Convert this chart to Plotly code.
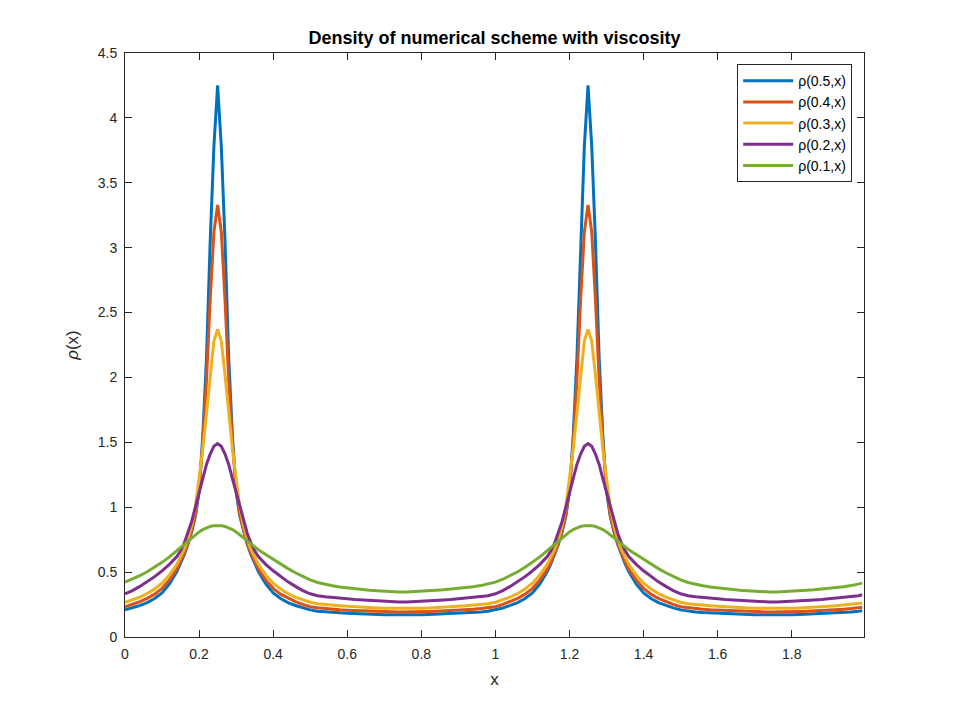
import plotly.graph_objects as go

# sample positions (two periods, peaks at 0.25 and 1.25)
x = [0, 0.02, 0.04, 0.06, 0.08, 0.1, 0.12, 0.14, 0.15, 0.16, 0.17, 0.18, 0.19, 0.2,
     0.21, 0.22, 0.23, 0.24, 0.25, 0.26, 0.27, 0.28, 0.29, 0.3, 0.31, 0.32, 0.33, 0.34,
     0.35, 0.36, 0.38, 0.4, 0.42, 0.44, 0.46, 0.48, 0.5, 0.52, 0.54, 0.56, 0.58, 0.6,
     0.62, 0.64, 0.66, 0.68, 0.7, 0.72, 0.74, 0.76, 0.78, 0.8, 0.82, 0.84, 0.86, 0.88,
     0.9, 0.92, 0.94, 0.96, 0.98,
     1.0, 1.02, 1.04, 1.06, 1.08, 1.1, 1.12, 1.14, 1.15, 1.16, 1.17, 1.18, 1.19, 1.2,
     1.21, 1.22, 1.23, 1.24, 1.25, 1.26, 1.27, 1.28, 1.29, 1.3, 1.31, 1.32, 1.33, 1.34,
     1.35, 1.36, 1.38, 1.4, 1.42, 1.44, 1.46, 1.48, 1.5, 1.52, 1.54, 1.56, 1.58, 1.6,
     1.62, 1.64, 1.66, 1.68, 1.7, 1.72, 1.74, 1.76, 1.78, 1.8, 1.82, 1.84, 1.86, 1.88,
     1.9, 1.92, 1.94, 1.96, 1.98, 1.99]

rho_05 = [0.209, 0.224, 0.243, 0.265, 0.297, 0.34, 0.41, 0.505, 0.565, 0.635, 0.715, 0.81, 0.93, 1.12,
          1.55, 2.15, 3.05, 3.78, 4.25, 3.78, 3.05, 2.15, 1.55, 1.12, 0.93, 0.81, 0.715, 0.635,
          0.565, 0.505, 0.41, 0.34, 0.297, 0.265, 0.243, 0.224, 0.209, 0.199, 0.193, 0.189, 0.186, 0.183,
          0.18, 0.178, 0.176, 0.174, 0.172, 0.171, 0.17, 0.17, 0.171, 0.172, 0.174, 0.176, 0.178, 0.18,
          0.183, 0.186, 0.189, 0.193, 0.199,
          0.209, 0.224, 0.243, 0.265, 0.297, 0.34, 0.41, 0.505, 0.565, 0.635, 0.715, 0.81, 0.93, 1.12,
          1.55, 2.15, 3.05, 3.78, 4.25, 3.78, 3.05, 2.15, 1.55, 1.12, 0.93, 0.81, 0.715, 0.635,
          0.565, 0.505, 0.41, 0.34, 0.297, 0.265, 0.243, 0.224, 0.209, 0.199, 0.193, 0.189, 0.186, 0.183,
          0.18, 0.178, 0.176, 0.174, 0.172, 0.171, 0.17, 0.17, 0.171, 0.172, 0.174, 0.176, 0.178, 0.18,
          0.183, 0.186, 0.189, 0.193, 0.199, 0.203]

rho_04 = [0.233, 0.251, 0.272, 0.298, 0.33, 0.375, 0.44, 0.525, 0.58, 0.645, 0.725, 0.82, 0.94, 1.14,
          1.5, 1.98, 2.6, 3.12, 3.33, 3.12, 2.6, 1.98, 1.5, 1.14, 0.94, 0.82, 0.725, 0.645,
          0.58, 0.525, 0.44, 0.375, 0.33, 0.298, 0.272, 0.251, 0.233, 0.225, 0.219, 0.214, 0.21, 0.207,
          0.204, 0.201, 0.199, 0.197, 0.195, 0.194, 0.193, 0.193, 0.194, 0.195, 0.197, 0.199, 0.201, 0.204,
          0.207, 0.21, 0.214, 0.219, 0.225,
          0.233, 0.251, 0.272, 0.298, 0.33, 0.375, 0.44, 0.525, 0.58, 0.645, 0.725, 0.82, 0.94, 1.14,
          1.5, 1.98, 2.6, 3.12, 3.33, 3.12, 2.6, 1.98, 1.5, 1.14, 0.94, 0.82, 0.725, 0.645,
          0.58, 0.525, 0.44, 0.375, 0.33, 0.298, 0.272, 0.251, 0.233, 0.225, 0.219, 0.214, 0.21, 0.207,
          0.204, 0.201, 0.199, 0.197, 0.195, 0.194, 0.193, 0.193, 0.194, 0.195, 0.197, 0.199, 0.201, 0.204,
          0.207, 0.21, 0.214, 0.219, 0.225, 0.229]

rho_03 = [0.268, 0.285, 0.307, 0.335, 0.37, 0.415, 0.478, 0.56, 0.615, 0.675, 0.755, 0.86, 1.0, 1.22,
          1.45, 1.72, 2.02, 2.28, 2.37, 2.28, 2.02, 1.72, 1.45, 1.22, 1.0, 0.86, 0.755, 0.675,
          0.615, 0.56, 0.478, 0.415, 0.37, 0.335, 0.307, 0.285, 0.268, 0.257, 0.25, 0.245, 0.24, 0.236,
          0.232, 0.229, 0.226, 0.224, 0.222, 0.221, 0.22, 0.22, 0.221, 0.222, 0.224, 0.226, 0.229, 0.232,
          0.236, 0.24, 0.245, 0.25, 0.257,
          0.268, 0.285, 0.307, 0.335, 0.37, 0.415, 0.478, 0.56, 0.615, 0.675, 0.755, 0.86, 1.0, 1.22,
          1.45, 1.72, 2.02, 2.28, 2.37, 2.28, 2.02, 1.72, 1.45, 1.22, 1.0, 0.86, 0.755, 0.675,
          0.615, 0.56, 0.478, 0.415, 0.37, 0.335, 0.307, 0.285, 0.268, 0.257, 0.25, 0.245, 0.24, 0.236,
          0.232, 0.229, 0.226, 0.224, 0.222, 0.221, 0.22, 0.22, 0.221, 0.222, 0.224, 0.226, 0.229, 0.232,
          0.236, 0.24, 0.245, 0.25, 0.257, 0.262]

rho_02 = [0.333, 0.358, 0.39, 0.425, 0.465, 0.51, 0.56, 0.62, 0.665, 0.725, 0.8, 0.89, 1.0, 1.11,
          1.22, 1.33, 1.41, 1.47, 1.49, 1.47, 1.41, 1.33, 1.22, 1.11, 1.0, 0.89, 0.8, 0.725,
          0.665, 0.62, 0.56, 0.51, 0.465, 0.425, 0.39, 0.358, 0.333, 0.318, 0.31, 0.303, 0.298, 0.294,
          0.289, 0.285, 0.281, 0.277, 0.274, 0.272, 0.27, 0.27, 0.272, 0.274, 0.277, 0.281, 0.285, 0.289,
          0.294, 0.298, 0.303, 0.31, 0.318,
          0.333, 0.358, 0.39, 0.425, 0.465, 0.51, 0.56, 0.62, 0.665, 0.725, 0.8, 0.89, 1.0, 1.11,
          1.22, 1.33, 1.41, 1.47, 1.49, 1.47, 1.41, 1.33, 1.22, 1.11, 1.0, 0.89, 0.8, 0.725,
          0.665, 0.62, 0.56, 0.51, 0.465, 0.425, 0.39, 0.358, 0.333, 0.318, 0.31, 0.303, 0.298, 0.294,
          0.289, 0.285, 0.281, 0.277, 0.274, 0.272, 0.27, 0.27, 0.272, 0.274, 0.277, 0.281, 0.285, 0.289,
          0.294, 0.298, 0.303, 0.31, 0.318, 0.325]

rho_01 = [0.423, 0.445, 0.473, 0.503, 0.537, 0.575, 0.617, 0.665, 0.69, 0.715, 0.74, 0.765, 0.79, 0.81,
          0.828, 0.842, 0.852, 0.858, 0.86, 0.858, 0.852, 0.842, 0.828, 0.81, 0.79, 0.765, 0.74, 0.715,
          0.69, 0.672, 0.635, 0.598, 0.562, 0.527, 0.495, 0.465, 0.44, 0.42, 0.405, 0.395, 0.386, 0.378,
          0.371, 0.365, 0.36, 0.356, 0.352, 0.349, 0.347, 0.347, 0.349, 0.352, 0.356, 0.36, 0.364, 0.369,
          0.375, 0.381, 0.388, 0.396, 0.407,
          0.423, 0.445, 0.473, 0.503, 0.537, 0.575, 0.617, 0.665, 0.69, 0.715, 0.74, 0.765, 0.79, 0.81,
          0.828, 0.842, 0.852, 0.858, 0.86, 0.858, 0.852, 0.842, 0.828, 0.81, 0.79, 0.765, 0.74, 0.715,
          0.69, 0.672, 0.635, 0.598, 0.562, 0.527, 0.495, 0.465, 0.44, 0.42, 0.405, 0.395, 0.386, 0.378,
          0.371, 0.365, 0.36, 0.356, 0.352, 0.349, 0.347, 0.347, 0.349, 0.352, 0.356, 0.36, 0.364, 0.369,
          0.375, 0.381, 0.388, 0.396, 0.407, 0.415]

labels = ["ρ(0.5,x)", "ρ(0.4,x)", "ρ(0.3,x)", "ρ(0.2,x)", "ρ(0.1,x)"]
series = [rho_05, rho_04, rho_03, rho_02, rho_01]
colors = ["#0072BD", "#D95319", "#EDB120", "#7E2F8E", "#77AC30"]

xticks = [0, 0.2, 0.4, 0.6, 0.8, 1, 1.2, 1.4, 1.6, 1.8]
yticks = [0, 0.5, 1, 1.5, 2, 2.5, 3, 3.5, 4, 4.5]

fig = go.Figure()
for name, ys, c in zip(labels, series, colors):
    fig.add_trace(go.Scatter(x=x, y=ys, mode="lines", name=name,
                             line=dict(color=c, width=3)))

axcol = "#262626"
# page body adds 8px offset, margins compensate for it
fig.update_layout(
    width=955,
    height=716,
    margin=dict(l=117, r=99, t=45, b=87),
    paper_bgcolor="white",
    plot_bgcolor="white",
    font=dict(family="Liberation Sans, Arial, sans-serif", size=14, color=axcol),
    title=dict(text="<b>Density of numerical scheme with viscosity</b>",
               x=0.5, xref="paper", y=1 - 30 / 716, yref="container",
               xanchor="center", yanchor="middle",
               font=dict(size=18, color="black")),
    showlegend=True,
    legend=dict(x=0.984, y=0.981, xanchor="right", yanchor="top",
                bgcolor="white", bordercolor=axcol, borderwidth=1,
                itemwidth=50,
                font=dict(size=14, color="black"), tracegroupgap=0),
    xaxis=dict(
        range=[0, 1.995],
        tickvals=xticks,
        ticktext=[f"{v:g}" for v in xticks],
        ticks="inside", ticklen=7, tickcolor=axcol, tickwidth=1,
        ticklabelstandoff=4,
        showline=True, linecolor=axcol, linewidth=1, mirror="ticks",
        showgrid=False, zeroline=False,
        title=dict(text="x", standoff=12),
    ),
    yaxis=dict(
        range=[0, 4.5],
        tickvals=yticks,
        ticktext=[f"{v:g}" for v in yticks],
        ticks="inside", ticklen=7, tickcolor=axcol, tickwidth=1,
        ticklabelstandoff=4,
        showline=True, linecolor=axcol, linewidth=1, mirror="ticks",
        showgrid=False, zeroline=False,
        title=dict(text="<i>ρ</i>(x)", standoff=14),
    ),
)

fig.write_html("out.html")
